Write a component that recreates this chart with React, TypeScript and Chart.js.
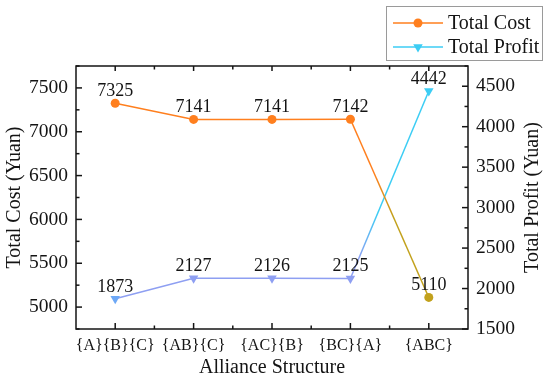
import React, { useEffect, useRef } from "react";
import { Chart, registerables } from "chart.js";

Chart.register(...registerables);

const categories = ["{A}{B}{C}", "{AB}{C}", "{AC}{B}", "{BC}{A}", "{ABC}"];
const totalCost = [7325, 7141, 7141, 7142, 5110];
const totalProfit = [1873, 2127, 2126, 2125, 4442];
const costTicks = [5000, 5500, 6000, 6500, 7000, 7500];
const profitTicks = [1500, 2000, 2500, 3000, 3500, 4000, 4500];
const seriesNames = ["Total Cost", "Total Profit"];

const FONT = "'Liberation Serif', 'Times New Roman', serif";
const INK = "#141414";
const ORANGE = "#FF7F1E";
const OLIVE = "#C2A11C";
const LAVENDER = "#8E9FF2";
const BLUE = "#6DA8F6";
const CYAN = "#3CCDF4";

export default function App() {
  const canvasRef = useRef<HTMLCanvasElement | null>(null);

  useEffect(() => {
    document.body.style.margin = "0";
    const canvas = canvasRef.current!;
    const g2d = canvas.getContext("2d")!;

    const lastSegGradient = (p0: any, p1: any, c0: string, c1: string, s0: number, s1: number) => {
      const g = g2d.createLinearGradient(p0.x, p0.y, p1.x, p1.y);
      g.addColorStop(0, c0);
      g.addColorStop(s0, c0);
      g.addColorStop(s1, c1);
      g.addColorStop(1, c1);
      return g;
    };

    const framePlugin = {
      id: "frameTicks",
      afterDraw(chart: any) {
        const ctx = chart.ctx;
        const { left, right, top, bottom } = chart.chartArea;
        const x = chart.scales.x;
        const y = chart.scales.y;
        const y1 = chart.scales.y1;
        ctx.save();
        ctx.strokeStyle = INK;
        ctx.lineWidth = 1.5;
        const seg = (ax: number, ay: number, bx: number, by: number) => {
          ctx.beginPath();
          ctx.moveTo(ax, ay);
          ctx.lineTo(bx, by);
          ctx.stroke();
        };
        const MAJ = 6;
        const MIN = 3.5;
        for (let i = 0; i < categories.length; i++) {
          const px = x.getPixelForValue(i);
          seg(px, bottom, px, bottom - MAJ);
          seg(px, top, px, top + MAJ - 1);
          if (i < categories.length - 1) {
            const mx = (px + x.getPixelForValue(i + 1)) / 2;
            seg(mx, bottom, mx, bottom - MIN);
            seg(mx, top, mx, top + MIN);
          }
        }
        for (let v = y.min; v <= y.max; v += 250) {
          const py = y.getPixelForValue(v);
          seg(left, py, left + (v % 500 === 0 ? MAJ : MIN), py);
        }
        for (let v = y1.min; v <= y1.max; v += 250) {
          const py = y1.getPixelForValue(v);
          seg(right, py, right - (v % 500 === 0 ? MAJ : MIN), py);
        }
        ctx.strokeRect(left, top, right - left, bottom - top);

        // right axis title (reads bottom-to-top)
        ctx.fillStyle = INK;
        ctx.font = `20px ${FONT}`;
        ctx.textAlign = "center";
        ctx.textBaseline = "middle";
        ctx.translate(533, (top + bottom) / 2);
        ctx.rotate(-Math.PI / 2);
        ctx.fillText("Total Profit (Yuan)", 0, 0);
        ctx.restore();

        // legend
        ctx.save();
        ctx.strokeStyle = "#9a9a9a";
        ctx.lineWidth = 1;
        ctx.strokeRect(386.5, 6.5, 156, 54);
        const rows = [
          { name: seriesNames[0], color: ORANGE, yc: 23, shape: "circle" },
          { name: seriesNames[1], color: CYAN, yc: 47, shape: "tri" },
        ];
        rows.forEach((r) => {
          ctx.strokeStyle = r.color;
          ctx.fillStyle = r.color;
          ctx.lineWidth = 1.5;
          ctx.beginPath();
          ctx.moveTo(393, r.yc);
          ctx.lineTo(443, r.yc);
          ctx.stroke();
          ctx.beginPath();
          if (r.shape === "circle") {
            ctx.arc(418, r.yc, 4.5, 0, Math.PI * 2);
          } else {
            const rr = 5.5;
            ctx.moveTo(418, r.yc + rr);
            ctx.lineTo(418 - rr * 0.866, r.yc - rr / 2);
            ctx.lineTo(418 + rr * 0.866, r.yc - rr / 2);
            ctx.closePath();
          }
          ctx.fill();
          ctx.fillStyle = INK;
          ctx.font = `20px ${FONT}`;
          ctx.textAlign = "left";
          ctx.textBaseline = "middle";
          ctx.fillText(r.name, 448, r.yc + 1);
        });
        ctx.restore();
      },
    };

    const labelPlugin = {
      id: "valueLabels",
      afterDatasetsDraw(chart: any) {
        const ctx = chart.ctx;
        ctx.save();
        ctx.fillStyle = INK;
        ctx.font = `18px ${FONT}`;
        ctx.textAlign = "center";
        ctx.textBaseline = "alphabetic";
        chart.data.datasets.forEach((ds: any, di: number) => {
          const meta = chart.getDatasetMeta(di);
          meta.data.forEach((pt: any, i: number) => {
            ctx.fillText(String(ds.data[i]), pt.x, pt.y - 7);
          });
        });
        ctx.restore();
      },
    };

    const last = categories.length - 1;

    const chart = new Chart(canvas, {
      type: "line",
      data: {
        labels: categories,
        datasets: [
          {
            label: seriesNames[0],
            data: totalCost,
            yAxisID: "y",
            borderColor: ORANGE,
            borderWidth: 1.5,
            pointStyle: "circle",
            pointRadius: 4.5,
            pointBackgroundColor: totalCost.map((_, i) => (i === last ? OLIVE : ORANGE)),
            pointBorderColor: totalCost.map((_, i) => (i === last ? OLIVE : ORANGE)),
            pointBorderWidth: 0,
            segment: {
              borderColor: (c: any) =>
                c.p1DataIndex === last ? lastSegGradient(c.p0, c.p1, ORANGE, OLIVE, 0.3, 0.55) : undefined,
            },
          },
          {
            label: seriesNames[1],
            data: totalProfit,
            yAxisID: "y1",
            borderColor: LAVENDER,
            borderWidth: 1.5,
            pointStyle: "triangle",
            pointRotation: 180,
            pointRadius: 5.5,
            pointBackgroundColor: totalProfit.map((_, i) => (i === 0 ? BLUE : i === last ? CYAN : LAVENDER)),
            pointBorderColor: totalProfit.map((_, i) => (i === 0 ? BLUE : i === last ? CYAN : LAVENDER)),
            pointBorderWidth: 0,
            segment: {
              borderColor: (c: any) =>
                c.p1DataIndex === last ? lastSegGradient(c.p0, c.p1, LAVENDER, CYAN, 0.1, 0.35) : undefined,
            },
          },
        ],
      },
      options: {
        animation: false,
        responsive: false,
        maintainAspectRatio: false,
        events: [],
        layout: { padding: { top: 66, left: 0, right: 0, bottom: 0 } },
        plugins: {
          legend: { display: false },
          tooltip: { enabled: false },
          title: { display: false },
        },
        scales: {
          x: {
            type: "category",
            offset: true,
            grid: { display: false, drawTicks: false },
            border: { display: false },
            ticks: {
              font: { family: FONT, size: 16 },
              color: INK,
              padding: 7,
              autoSkip: false,
              maxRotation: 0,
              minRotation: 0,
            },
            title: {
              display: true,
              text: "Alliance Structure",
              font: { family: FONT, size: 20 },
              color: INK,
              padding: { top: 0, bottom: 3 },
            },
            afterFit: (s: any) => {
              s.height = 54;
            },
          },
          y: {
            type: "linear",
            position: "left",
            min: 4750,
            max: 7750,
            grid: { display: false, drawTicks: false },
            border: { display: false },
            afterBuildTicks: (s: any) => {
              s.ticks = costTicks.map((v) => ({ value: v }));
            },
            ticks: {
              font: { family: FONT, size: 19.5 },
              color: INK,
              padding: 8,
              callback: (v: any) => String(v),
            },
            title: {
              display: true,
              text: "Total Cost (Yuan)",
              font: { family: FONT, size: 20 },
              color: INK,
              padding: { top: 3, bottom: 0 },
            },
            afterFit: (s: any) => {
              s.width = 76;
            },
          },
          y1: {
            type: "linear",
            position: "right",
            min: 1500,
            max: 4750,
            grid: { display: false, drawTicks: false },
            border: { display: false },
            afterBuildTicks: (s: any) => {
              s.ticks = profitTicks.map((v) => ({ value: v }));
            },
            ticks: {
              font: { family: FONT, size: 19.5 },
              color: INK,
              padding: 8,
              callback: (v: any) => String(v),
            },
            title: { display: false },
            afterFit: (s: any) => {
              s.width = 82;
            },
          },
        },
      },
      plugins: [labelPlugin, framePlugin],
    });

    return () => chart.destroy();
  }, []);

  return (
    <div style={{ width: 550, height: 383 }}>
      <canvas ref={canvasRef} width={550} height={383} style={{ display: "block", width: 550, height: 383 }} />
    </div>
  );
}
